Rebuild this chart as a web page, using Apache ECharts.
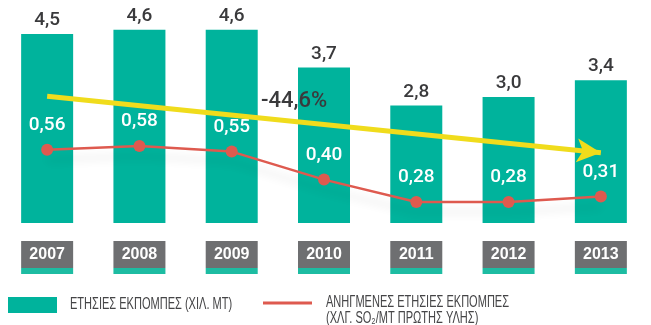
<!DOCTYPE html>
<html>
<head>
<meta charset="utf-8">
<script src="https://cdn.jsdelivr.net/npm/echarts@6/dist/echarts.min.js"></script>
<style>
  html, body { margin: 0; padding: 0; background: #ffffff; }
  #chart { width: 651px; height: 325px; }
</style>
</head>
<body>
<div id="chart"></div>
<script>
// Annual emissions (thousand tonnes) and specific emissions (kg SO2 / t raw material)
var years = ['2007', '2008', '2009', '2010', '2011', '2012', '2013'];
var annualEmissions = [4.5, 4.6, 4.6, 3.7, 2.8, 3.0, 3.4];
var specificEmissions = [0.56, 0.58, 0.55, 0.40, 0.28, 0.28, 0.31];
var trendLabel = '-44,6%';
// Trend arrow endpoints, in category index / left-axis units
var trendStart = [-0.05, 3.02];
var trendEnd = [6.0, 1.67];

var barName = 'ΕΤΗΣΙΕΣ ΕΚΠΟΜΠΕΣ (ΧΙΛ. ΜΤ)';
var lineNameLines = ['ΑΝΗΓΜΕΝΕΣ ΕΤΗΣΙΕΣ ΕΚΠΟΜΠΕΣ', '(ΧΛΓ. SO₂/ΜΤ ΠΡΩΤΗΣ ΥΛΗΣ)'];
var lineName = lineNameLines.join('\n');

var TEAL = '#00b39c';
var RED = '#de5a4f';
var YELLOW = '#f0dc1c';
var GRAY = '#6e6f71';
var TEXT = '#3a3a3c';
var LEGEND_TEXT = '#454547';
var numFont = 'Roboto, "Liberation Sans", sans-serif';
var legendFont = '16px "Liberation Sans", Arial, sans-serif';

function comma(v, d) { return v.toFixed(d).replace('.', ','); }

// Condensed legend captions
function caption(text, x, y) {
  return {
    type: 'text', x: x, y: y, scaleX: 0.69, scaleY: 1, originX: 0, originY: 0,
    style: { text: text, fill: LEGEND_TEXT, font: legendFont, verticalAlign: 'middle' }
  };
}

var chart = echarts.init(document.getElementById('chart'), null, { renderer: 'canvas' });
chart.setOption({
  animation: false,
  backgroundColor: '#ffffff',
  grid: { left: 1, width: 646, top: 13, height: 210, containLabel: false },
  xAxis: {
    type: 'category',
    data: years,
    axisLine: { show: false },
    axisTick: { show: false },
    axisLabel: {
      margin: 18,
      formatter: function (v) { return '{a|' + v + '}\n{b|}'; },
      rich: {
        a: {
          backgroundColor: GRAY, color: '#ffffff', width: 52, height: 27, lineHeight: 27,
          align: 'center', fontFamily: '"Liberation Sans", Arial, sans-serif',
          fontWeight: 'bold', fontSize: 16
        },
        b: { backgroundColor: '#1dbca2', width: 52, height: 6, lineHeight: 6 }
      }
    }
  },
  yAxis: [
    { type: 'value', min: 0, max: 5, show: false, splitLine: { show: false } },
    { type: 'value', min: 0.1675, max: 1.2925, show: false, splitLine: { show: false } }
  ],
  legend: [
    {
      left: 8, top: 297, padding: 0, itemWidth: 49, itemHeight: 16, icon: 'rect',
      data: [barName], selectedMode: false,
      formatter: function () { return ''; }
    },
    {
      left: 263, top: 301.5, padding: 0, itemWidth: 49, itemHeight: 3, icon: 'rect',
      data: [lineName], selectedMode: false,
      formatter: function () { return ''; }
    }
  ],
  graphic: [
    {
      type: 'text', x: 261, y: 90, z: 10,
      style: { text: trendLabel, fill: TEXT, font: '500 22px ' + numFont }
    },
    caption(barName, 70, 305),
    caption(lineNameLines[0], 326, 303),
    caption(lineNameLines[1], 326, 319)
  ],
  series: [
    {
      name: barName,
      type: 'bar',
      data: annualEmissions,
      barWidth: 52,
      itemStyle: { color: TEAL },
      label: {
        show: true, position: 'top', distance: 4,
        color: TEXT, fontFamily: numFont, fontWeight: 500, fontSize: 19,
        formatter: function (p) { return comma(p.value, 1); }
      },
      markLine: {
        silent: true,
        symbol: ['none', 'arrow'],
        symbolSize: [18, 24],
        z: 5,
        lineStyle: { color: YELLOW, width: 5, type: 'solid' },
        label: { show: false },
        data: [[{ coord: trendStart }, { coord: trendEnd }]]
      }
    },
    {
      name: lineName,
      type: 'line',
      yAxisIndex: 1,
      data: specificEmissions,
      z: 4,
      symbol: 'circle',
      symbolSize: 12,
      itemStyle: { color: RED },
      lineStyle: {
        color: RED, width: 2.5,
        shadowColor: 'rgba(0,0,0,0.12)', shadowBlur: 10, shadowOffsetY: 10
      },
      label: {
        show: true, position: 'top', distance: 9,
        color: '#ffffff', fontFamily: numFont, fontWeight: 500, fontSize: 19,
        formatter: function (p) { return comma(p.value, 2); }
      }
    }
  ]
});
</script>
</body>
</html>
